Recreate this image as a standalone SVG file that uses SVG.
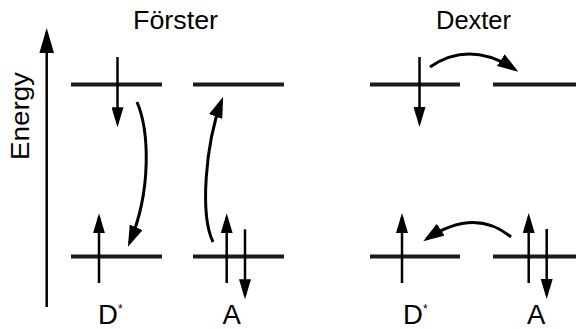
<svg xmlns="http://www.w3.org/2000/svg" width="576" height="329" viewBox="0 0 576 329">
  <defs>
    <style>
      .lvl { stroke: #1a1a1a; stroke-width: 4; fill: none; }
      .el { stroke: #000; stroke-width: 2.5; fill: none; }
      .cv { stroke: #000; stroke-width: 3; fill: none; }
      .ax { stroke: #000; stroke-width: 2.5; fill: none; }
      .t { font-family: "Liberation Sans", Arial, sans-serif; fill: #000; }
    </style>
    <marker id="ah" markerUnits="userSpaceOnUse" viewBox="0 0 20 12" markerWidth="20" markerHeight="12" refX="16" refY="6" orient="auto">
      <path d="M0,0 L20,6 L0,12 z" fill="#000"/>
    </marker>
    <marker id="ahc" markerUnits="userSpaceOnUse" viewBox="0 0 21 14" markerWidth="21" markerHeight="14" refX="17" refY="7" orient="auto">
      <path d="M0,0 L21,7 L0,14 z" fill="#000"/>
    </marker>
  </defs>

  <g id="titles">
    <text class="t" x="133" y="28.5" font-size="26" textLength="85" lengthAdjust="spacingAndGlyphs">Förster</text>
    <text class="t" x="436" y="28.5" font-size="25.5" textLength="75" lengthAdjust="spacingAndGlyphs">Dexter</text>
  </g>

  <g id="energy-axis">
    <line class="ax" x1="46.7" y1="307" x2="46.7" y2="32"/>
    <polygon points="46.7,28 54,53 39.4,53" fill="#000"/>
    <text class="t" font-size="25" transform="translate(28.5,160) rotate(-90)" textLength="88" lengthAdjust="spacingAndGlyphs">Energy</text>
  </g>

  <g id="forster-donor">
    <line class="lvl" x1="71" y1="84.5" x2="162" y2="84.5"/>
    <line class="lvl" x1="71" y1="256.5" x2="162" y2="256.5"/>
    <line class="el" x1="117.5" y1="57" x2="117.5" y2="123.3" marker-end="url(#ah)"/>
    <line class="el" x1="99" y1="283" x2="99" y2="217.3" marker-end="url(#ah)"/>
    <text class="t" x="98" y="323.5" font-size="27.5">D<tspan font-size="12" dy="-10.5">*</tspan></text>
  </g>

  <g id="forster-acceptor">
    <line class="lvl" x1="193" y1="84.5" x2="284" y2="84.5"/>
    <line class="lvl" x1="193" y1="256.5" x2="284" y2="256.5"/>
    <line class="el" x1="226.7" y1="283" x2="226.7" y2="217.3" marker-end="url(#ah)"/>
    <line class="el" x1="245" y1="229.3" x2="245" y2="295.3" marker-end="url(#ah)"/>
    <text class="t" x="222.5" y="323.5" font-size="27.5">A</text>
  </g>

  <g id="dexter-donor">
    <line class="lvl" x1="370" y1="84.5" x2="460" y2="84.5"/>
    <line class="lvl" x1="370" y1="256.5" x2="460" y2="256.5"/>
    <line class="el" x1="419.5" y1="57" x2="419.5" y2="123" marker-end="url(#ah)"/>
    <line class="el" x1="402" y1="283" x2="402" y2="217" marker-end="url(#ah)"/>
    <text class="t" x="403" y="323.5" font-size="27.5">D<tspan font-size="12" dy="-10.5">*</tspan></text>
  </g>

  <g id="dexter-acceptor">
    <line class="lvl" x1="493" y1="84.5" x2="576" y2="84.5"/>
    <line class="lvl" x1="493" y1="256.5" x2="576" y2="256.5"/>
    <line class="el" x1="528.7" y1="283" x2="528.7" y2="217" marker-end="url(#ah)"/>
    <line class="el" x1="546.7" y1="229" x2="546.7" y2="295" marker-end="url(#ah)"/>
    <text class="t" x="527" y="323.5" font-size="27.5">A</text>
  </g>

  <g id="connectors">
    <path class="cv" d="M137,102 C149,130 152,190 129.5,243" marker-end="url(#ahc)"/>
    <path class="cv" d="M213,242 C200,215 205,145 221.7,100.6" marker-end="url(#ahc)"/>
    <path class="cv" d="M430,67 Q470,40 515,69.5" marker-end="url(#ahc)"/>
    <path class="cv" d="M511,237 Q475,207 426.5,239" marker-end="url(#ahc)"/>
  </g>
</svg>
